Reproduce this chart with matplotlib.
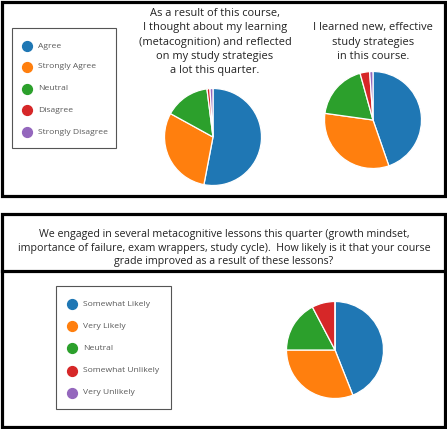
import matplotlib
matplotlib.use("Agg")
import matplotlib.pyplot as plt
from matplotlib.patches import Rectangle

plt.rcParams['font.family'] = ['Open Sans', 'DejaVu Sans']

colors = ['#1f77b4', '#ff7f0e', '#2ca02c', '#d62728', '#9467bd']

agree_labels = ['Agree', 'Strongly Agree', 'Neutral', 'Disagree', 'Strongly Disagree']
reflect_vals = [53, 30, 15, 1, 1]
strategies_vals = [44.7, 32.5, 18.5, 3.2, 1.1]

likely_labels = ['Somewhat Likely', 'Very Likely', 'Neutral', 'Somewhat Unlikely', 'Very Unlikely']
grade_vals = [44, 31, 17.3, 7.7, 0]

title1 = "As a result of this course,\nI thought about my learning\n(metacognition) and reflected\non my study strategies\na lot this quarter."
title2 = "I learned new, effective\nstudy strategies\nin this course."
title3 = ("We engaged in several metacognitive lessons this quarter (growth mindset,\n"
          "importance of failure, exam wrappers, study cycle).  How likely is it that your course\n"
          "grade improved as a result of these lessons?")

W, H = 447, 429
fig = plt.figure(figsize=(W / 100, H / 100), dpi=100)

# background axes in pixel coords (y down)
bg = fig.add_axes([0, 0, 1, 1])
bg.set_xlim(0, W)
bg.set_ylim(H, 0)
bg.axis('off')

def box(x0, y0, x1, y1, lw, color='black'):
    bg.add_patch(Rectangle((x0, y0), x1 - x0, y1 - y0, fill=False, lw=lw, edgecolor=color))

# outer frames
box(2, 1.5, 445, 195.5, 2.3)
box(2, 213.5, 445, 427, 2.3)
bg.plot([2, 445], [270.5, 270.5], color='black', lw=2.3)

# legend boxes
box(12, 28, 116, 148, 0.8, '#555555')
box(56, 286, 171, 409, 0.8, '#555555')

def legend(labels, x_m, x_t, ys):
    for lab, c, y in zip(labels, colors, ys):
        bg.scatter([x_m], [y], s=50, color=c, zorder=3)
        bg.text(x_t, y, lab, fontsize=6.1, color='#5a5a5a', va='center', ha='left')

legend(agree_labels, 27, 38, [46, 67, 89, 110, 132])
legend(likely_labels, 72, 83, [304, 326, 348, 371, 393])

bg.text(215, 42, title1, fontsize=7.9, ha='center', va='center', linespacing=1.42, color='#222222')
bg.text(373, 42, title2, fontsize=7.9, ha='center', va='center', linespacing=1.42, color='#222222')
bg.text(224, 248, title3, fontsize=7.7, ha='center', va='center', linespacing=1.36, color='#222222')

def pie(cx, cy, r, vals):
    ax = fig.add_axes([(cx - r) / W, 1 - (cy + r) / H, 2 * r / W, 2 * r / H])
    ax.pie(vals, colors=colors, startangle=90, counterclock=False,
           wedgeprops=dict(edgecolor='white', linewidth=0.9))
    ax.set_xlim(-1, 1)
    ax.set_ylim(-1, 1)
    ax.set_aspect('auto')
    ax.axis('off')

pie(213, 137, 48.5, reflect_vals)
pie(373, 120, 48.5, strategies_vals)
pie(335, 350, 48.5, grade_vals)

fig.savefig('out.png', dpi=100)
